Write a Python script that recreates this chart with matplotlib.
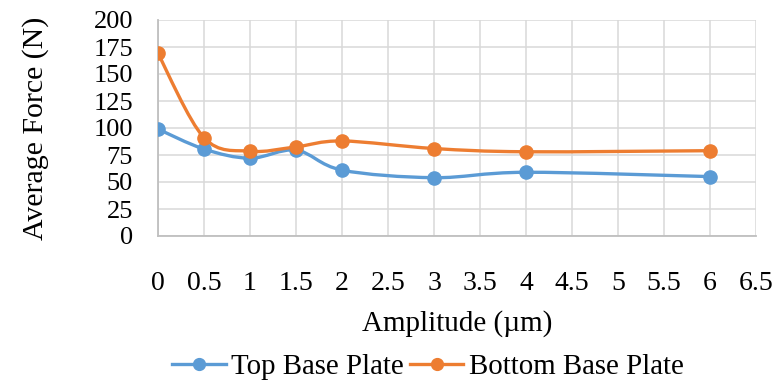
import matplotlib
matplotlib.use("Agg")
import matplotlib.pyplot as plt
import numpy as np
from matplotlib.path import Path
from matplotlib.patches import PathPatch
from matplotlib.lines import Line2D

amplitude = [0, 0.5, 1, 1.5, 2, 3, 4, 6]
top_force = [99, 80.5, 72, 79.5, 61, 54, 59, 55]
bottom_force = [169, 91, 78.5, 82.5, 88, 81, 78, 79]
x_ticks = [0, 0.5, 1, 1.5, 2, 2.5, 3, 3.5, 4, 4.5, 5, 5.5, 6, 6.5]
y_ticks = [0, 25, 50, 75, 100, 125, 150, 175, 200]

BLUE = "#5b9bd5"
ORANGE = "#ed7d31"

plt.rcParams["font.family"] = ["Liberation Serif", "DejaVu Serif"]
plt.rcParams["font.size"] = 20

fig = plt.figure(figsize=(7.76, 3.87), dpi=100)
ax = fig.add_axes([158 / 776, 1 - 236 / 387, (756 - 158) / 776, (236 - 20) / 387])


def smooth_path(xs, ys):
    """Cardinal (Catmull-Rom) spline through the points as cubic Bezier segments."""
    pts = np.column_stack([xs, ys]).astype(float)
    n = len(pts)
    verts = [pts[0]]
    codes = [Path.MOVETO]
    for i in range(n - 1):
        p0 = pts[max(i - 1, 0)]
        p1 = pts[i]
        p2 = pts[i + 1]
        p3 = pts[min(i + 2, n - 1)]
        c1 = p1 + (p2 - p0) / 6.0
        c2 = p2 - (p3 - p1) / 6.0
        verts += [c1, c2, p2]
        codes += [Path.CURVE4] * 3
    return Path(verts, codes)


for ys, color in [(top_force, BLUE), (bottom_force, ORANGE)]:
    ax.add_patch(PathPatch(smooth_path(amplitude, ys), facecolor="none",
                           edgecolor=color, lw=2.4, capstyle="round",
                           joinstyle="round", zorder=3))
    ax.plot(amplitude, ys, "o", color=color, markersize=9.5, zorder=4)

ax.set_xlim(0, 6.5)
ax.set_ylim(0, 200)
ax.set_xticks(x_ticks)
ax.set_xticklabels([f"{v:g}" for v in x_ticks])
ax.set_yticks(y_ticks)
ax.tick_params(axis="x", length=0, pad=25, labelsize=20)
ax.tick_params(axis="y", length=0, pad=18, labelsize=19)
ax.grid(True, color="#d9d9d9", lw=1.1)
ax.set_axisbelow(True)
for side in ["top", "right"]:
    ax.spines[side].set_visible(False)
for side in ["left", "bottom"]:
    ax.spines[side].set_color("#bfbfbf")
    ax.spines[side].set_linewidth(1.3)

ax.set_xlabel("Amplitude (\u00b5m)", fontsize=21, labelpad=10)
ax.set_ylabel("Average Force (N)", fontsize=21.5, labelpad=32)

handles = [
    Line2D([], [], color=BLUE, lw=2.4, marker="o", markersize=8.5),
    Line2D([], [], color=ORANGE, lw=2.4, marker="o", markersize=8.5),
]
fig.legend(handles, ["Top Base Plate", "Bottom Base Plate"], loc="center",
           bbox_to_anchor=(428 / 776, 1 - 367 / 387), ncol=2, frameon=False,
           fontsize=20.8, handlelength=1.85, handletextpad=0.2,
           columnspacing=0.2, borderpad=0.0)

fig.savefig("out.png", dpi=100)
